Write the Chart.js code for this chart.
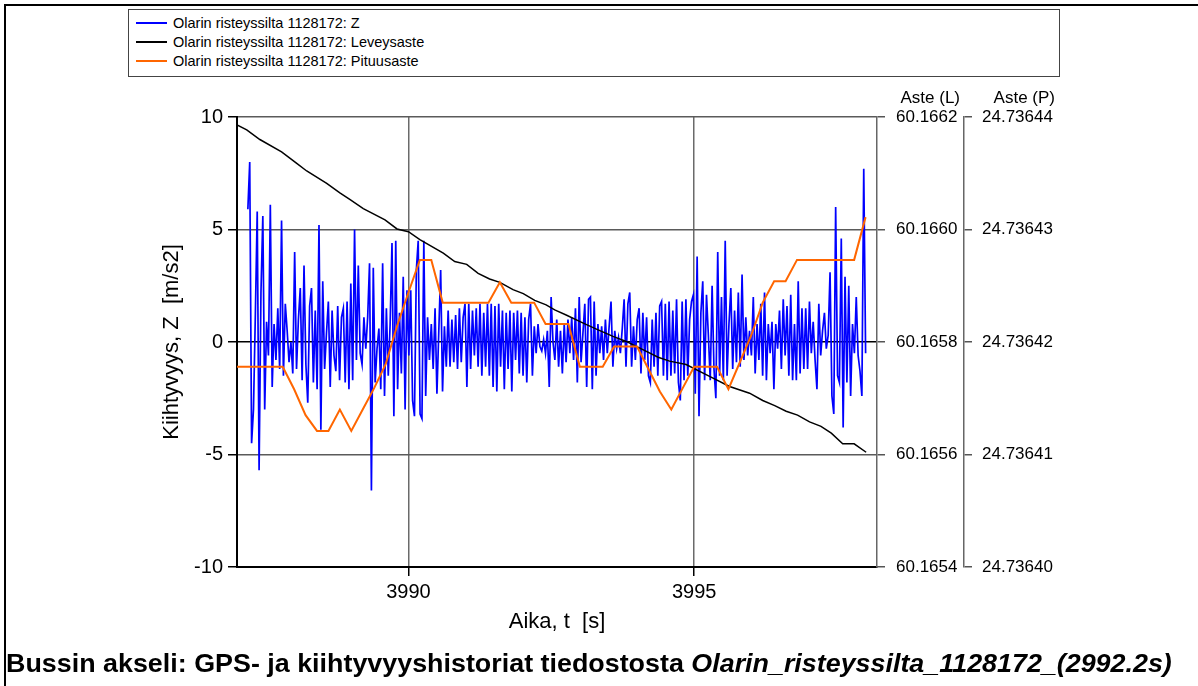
<!DOCTYPE html>
<html>
<head>
<meta charset="utf-8">
<script src="https://cdn.jsdelivr.net/npm/chart.js@4.4.1/dist/chart.umd.min.js"></script>
<style>
  html, body { margin: 0; padding: 0; background: #fff; }
  #wrap { position: relative; width: 1198px; height: 686px; overflow: hidden; font-family: "Liberation Sans", Arial, sans-serif; }
  #chart { position: absolute; left: 0; top: 0; }
  #frameTop { position: absolute; left: 4px; top: 4px; width: 1194px; height: 2px; background: #000; }
  #frameLeft { position: absolute; left: 4px; top: 4px; width: 2px; height: 682px; background: #000; }
  #legend { position: absolute; left: 128px; top: 9px; width: 930px; height: 63px; border: 1px solid #444; background: #fff; padding-top: 3px; box-sizing: content-box; }
  .row { height: 19.3px; display: flex; align-items: center; font-size: 14.5px; color: #000; white-space: pre; }
  .swatch { width: 31px; height: 0; border-top: 2px solid; margin-left: 7px; margin-right: 6px; }
  #caption { position: absolute; left: 6px; top: 649px; font-size: 25px; font-weight: bold; color: #000; white-space: pre; transform-origin: 0 0; }
</style>
</head>
<body>
<div id="wrap">
  <canvas id="chart" width="1198" height="686"></canvas>
  <div id="frameTop"></div>
  <div id="frameLeft"></div>
  <div id="legend"></div>
  <div id="caption">Bussin akseli: GPS- ja kiihtyvyyshistoriat tiedostosta <i>Olarin_risteyssilta_1128172_(2992.2s)</i></div>
</div>
<script>
// Z acceleration, sampled evenly from zStart
const zStart = 3987.19;
const zStep = 0.03276;
const zValues = [
  5.9, 8.0, -4.5, -3.0, 1.2, 5.8, -5.7, 2.2, 5.6, -3.0,
  0.9, -0.6, 6.1, -2.0, 0.8, -0.8, 1.5, -1.2, 5.4, -1.5,
  1.7, 0.5, -0.9, 0.0, -1.4, 4.0, -1.2, 1.0, 2.4, -1.7,
  3.4, -1.0, -2.7, 1.6, 2.4, -1.8, 1.4, -2.1, 5.2, -3.9,
  2.7, -1.2, 0.4, 1.8, -2.0, 1.4, -0.6, -1.3, 1.6, -1.7,
  1.1, 1.5, -1.8, 1.8, -2.1, 2.6, -1.7, 5.0, -0.8, 3.4,
  -0.5, -1.0, 1.1, -0.3, 1.1, 3.5, -6.6, 3.3, -1.8, -0.3,
  0.6, -2.1, 3.5, -2.4, 1.5, -1.5, 0.8, 4.4, -3.3, 4.5,
  // ~3989.8 s
  -2.1, 1.3, -1.4, 2.9, -3.0, 2.3, -0.6, 2.3, -2.6, -3.3,
  3.2, 4.5, -3.2, -3.4, 4.5, -2.4, 1.1, -0.8, 0.8, -1.2,
  1.5, -2.3, 0.5, 3.2, -2.2, 0.7, -1.1, 1.4, -1.1, 1.0,
  -0.9, 1.2, -1.2, 1.5, -0.9, 1.1, 1.7, -2.0, 1.7, -1.2,
  1.4, -0.6, 1.5, -1.1, 1.7, -1.5, 1.3, -1.1, 1.7, -1.5,
  1.7, -2.0, 1.6, -2.2, 1.7, -1.1, 1.4, -2.1, 1.3, -1.2,
  1.4, -2.2, 1.3, -0.8, 1.4, -1.4, 1.3, -1.5, 1.1, -1.8,
  1.0, 1.7, -1.5, 0.7, -0.5, 0.8, -0.2, -0.4, 0.1, -0.5,
  0.5, -2.0, 2.0, 0.0,
  // ~3992.5 s
  -0.8, 1.0, -1.1, 0.5, -1.4, 0.8, -0.9, 1.0, -0.5, 1.1,
  -0.8, 1.5, -1.8, 2.0, -0.9, 0.4, 1.7, -2.0, 1.9, 2.0,
  -2.1, 1.8, -1.5, 0.8, -0.5, 0.7, -0.8, 1.0, -0.5, 0.7,
  1.8, -1.1, 0.5, -0.3, 0.2, -0.5, 0.6, 1.9, -1.1, 1.7,
  2.2, -1.1, 0.7, -0.8, 1.0, 1.5, -1.4, 1.3, -0.8, 1.1,
  -1.5, -1.8, 1.0, -1.1, 1.3, -1.5, 1.6, 1.8, -1.5, 1.7,
  -1.7, 1.8, -1.5, 1.4, -1.4, 1.9, -1.8, -2.6, 1.8, -1.7,
  1.9, -1.5, 1.0, 1.8, 2.1, -2.3, 3.8, -3.3, 1.3, 2.7,
  -1.7, 2.1, 0.3,
  // ~3995.3 s
  -1.7, 2.5, -1.2, -2.5, 4.0, -1.5, 2.0, -1.7, 4.5, -1.5,
  0.8, 2.4, -1.2, 1.4, -0.9, 2.2, -1.1, 3.0, -0.8, 1.1,
  -0.6, 0.5, -0.6, 2.0, -1.4, 0.8, -0.8, 1.7, -1.5, 2.2,
  -1.7, 0.8, -0.5, 0.9, -2.1, 0.8, -0.3, 1.4, -1.2, 1.9,
  -0.6, 1.6, -1.5, 2.1, -1.7, 0.8, -1.7, 2.7, -1.4, 1.5,
  -1.2, 1.5, -1.2, 1.8, -0.5, 0.9, -0.8, -2.1, 1.7, -0.6,
  0.5, 1.3, -0.3, 0.3, 3.1, -2.4, -3.2, 6.0, -1.5, -1.8,
  4.6, -3.8, 2.9, -1.8, 2.5, -2.4, 0.8, -0.5, 2.0, -0.6,
  -1.3, -2.4, 7.7, -0.5
];

// GPS latitude (Leveysaste)
const latTimes = [3987.00, 3987.17, 3987.40, 3987.78, 3988.04, 3988.22, 3988.57, 3988.80, 3988.98, 3989.21,
  3989.59, 3989.80, 3990.00, 3990.20, 3990.61, 3990.81, 3991.02, 3991.22, 3991.42, 3991.60,
  3991.83, 3992.01, 3992.21, 3992.41, 3992.56, 3992.76, 3993.05, 3993.29, 3993.58, 3993.81,
  3994.05, 3994.37, 3994.57, 3994.86, 3995.27, 3995.62, 3995.97, 3996.20, 3996.41, 3996.61,
  3996.81, 3997.02, 3997.22, 3997.40, 3997.60, 3997.80, 3998.01];
const latValues = [60.166186, 60.166177, 60.166160, 60.166138, 60.166118, 60.166104, 60.166082, 60.166065, 60.166053, 60.166037,
  60.166017, 60.166001, 60.165996, 60.165982, 60.165958, 60.165943, 60.165938, 60.165922, 60.165912, 60.165906,
  60.165893, 60.165886, 60.165874, 60.165866, 60.165857, 60.165848, 60.165834, 60.165823, 60.165810, 60.165801,
  60.165789, 60.165773, 60.165766, 60.165760, 60.165739, 60.165721, 60.165709, 60.165696, 60.165687, 60.165677,
  60.165670, 60.165658, 60.165650, 60.165638, 60.165619, 60.165619, 60.165604];

// GPS longitude (Pituusaste)
const lonTimes = [3987.0, 3987.8, 3988.0, 3988.2, 3988.4, 3988.6, 3988.8, 3989.0, 3989.2, 3989.4,
  3989.6, 3989.8, 3990.0, 3990.2, 3990.4, 3990.6, 3991.4, 3991.6, 3991.8, 3992.2,
  3992.4, 3992.8, 3993.0, 3993.4, 3993.6, 3994.0, 3994.2, 3994.4, 3994.6, 3994.8,
  3995.0, 3995.4, 3995.6, 3995.8, 3996.0, 3996.2, 3996.4, 3996.6, 3996.8, 3997.8, 3998.0];
const lonValues = [24.7364178, 24.7364178, 24.7364158, 24.7364135, 24.7364121, 24.7364121, 24.7364140, 24.7364121, 24.7364140, 24.7364159,
  24.7364180, 24.7364214, 24.7364244, 24.7364273, 24.7364273, 24.7364235, 24.7364235, 24.7364253, 24.7364235, 24.7364235,
  24.7364216, 24.7364216, 24.7364178, 24.7364178, 24.7364196, 24.7364196, 24.7364176, 24.7364156, 24.7364140, 24.7364159,
  24.7364178, 24.7364178, 24.7364158, 24.7364182, 24.7364206, 24.7364235, 24.7364254, 24.7364254, 24.7364273, 24.7364273, 24.7364311];

const timeTicks = [3990, 3995];
const zTicks = [-10, -5, 0, 5, 10];
const latTicks = [60.1654, 60.1656, 60.1658, 60.1660, 60.1662];
const lonTicks = [24.73640, 24.73641, 24.73642, 24.73643, 24.73644];

const seriesLabels = ['Olarin risteyssilta 1128172: Z', 'Olarin risteyssilta 1128172: Leveysaste', 'Olarin risteyssilta 1128172: Pituusaste'];
const seriesColors = ['#0000ff', '#000000', '#ff6600'];

const FONT = '"Liberation Sans", Arial, sans-serif';

const zData = zValues.map((v, i) => ({ x: zStart + i * zStep, y: v }));
const latData = latTimes.map((t, i) => ({ x: t, y: latValues[i] }));
const lonData = lonTimes.map((t, i) => ({ x: t, y: lonValues[i] }));

function setTicks(list) {
  return function (scale) { scale.ticks = list.map(v => ({ value: v })); };
}

// "Aste (L)" / "Aste (P)" headings above the right axes
const asteTitles = {
  id: 'asteTitles',
  afterDraw(chart) {
    const c = chart.ctx;
    c.save();
    c.font = '17px ' + FONT;
    c.fillStyle = '#000';
    c.textAlign = 'right';
    c.textBaseline = 'middle';
    const y = chart.chartArea.top - 19;
    c.fillText('Aste (L)', chart.scales.yL.right - 4, y);
    c.fillText('Aste (P)', chart.scales.yP.right - 4, y);
    c.restore();
  }
};

var ctx = document.getElementById('chart').getContext('2d');

var mychart = new Chart(ctx, {
  type: 'line',
  data: {
    datasets: [
      { label: seriesLabels[0], data: zData, yAxisID: 'y', borderColor: seriesColors[0], borderWidth: 1.7, pointRadius: 0, order: 3 },
      { label: seriesLabels[1], data: latData, yAxisID: 'yL', borderColor: seriesColors[1], borderWidth: 1.5, pointRadius: 0, order: 2 },
      { label: seriesLabels[2], data: lonData, yAxisID: 'yP', borderColor: seriesColors[2], borderWidth: 2, pointRadius: 0, order: 1 }
    ]
  },
  options: {
    responsive: false,
    animation: false,
    layout: { padding: { left: 155, right: 139, top: 117, bottom: 51 } },
    plugins: { legend: { display: false }, tooltip: { enabled: false } },
    scales: {
      x: {
        type: 'linear', min: 3987.0, max: 3998.2,
        afterBuildTicks: setTicks(timeTicks),
        afterFit: s => { s.height = 68; },
        ticks: { font: { family: FONT, size: 20 }, color: '#000', padding: 4, maxRotation: 0, callback: v => String(v) },
        grid: { color: '#6a6a6a', lineWidth: 1.5, tickLength: 9, tickColor: '#000', tickWidth: 1.5 },
        border: { color: '#000', width: 2 },
        title: { display: true, text: 'Aika, t  [s]', font: { family: FONT, size: 22 }, color: '#000', padding: { top: 0, bottom: 0 } }
      },
      y: {
        position: 'left', min: -10, max: 10,
        afterBuildTicks: setTicks(zTicks),
        afterFit: s => { s.width = 82; },
        ticks: { font: { family: FONT, size: 20 }, color: '#000', padding: 5 },
        grid: {
          color: c => (c.tick && c.tick.value === 0) ? '#000' : '#5a5a5a',
          lineWidth: 1.5, tickLength: 9, tickColor: '#000'
        },
        border: { color: '#000', width: 2 },
        title: { display: true, text: 'Kiihtyvyys, Z  [m/s2]', font: { family: FONT, size: 22 }, color: '#000', padding: { top: 4, bottom: 0 } }
      },
      yL: {
        position: 'right', weight: 0, min: 60.1654, max: 60.1662,
        afterBuildTicks: setTicks(latTicks),
        afterFit: s => { s.width = 87; },
        ticks: { font: { family: FONT, size: 17 }, color: '#000', padding: 11, callback: v => Number(v).toFixed(4) },
        grid: { drawOnChartArea: false, tickLength: 8, tickColor: '#555', lineWidth: 1.5 },
        border: { color: '#666', width: 1.5 }
      },
      yP: {
        position: 'right', weight: 1, min: 24.73640, max: 24.73644,
        afterBuildTicks: setTicks(lonTicks),
        afterFit: s => { s.width = 95; },
        ticks: { font: { family: FONT, size: 17 }, color: '#000', padding: 10, callback: v => Number(v).toFixed(5) },
        grid: { drawOnChartArea: false, tickLength: 8, tickColor: '#555', lineWidth: 1.5 },
        border: { color: '#666', width: 1.5 }
      }
    }
  },
  plugins: [asteTitles]
});

// legend box built from the series
const legendEl = document.getElementById('legend');
seriesLabels.forEach((lab, i) => {
  const row = document.createElement('div');
  row.className = 'row';
  const sw = document.createElement('span');
  sw.className = 'swatch';
  sw.style.borderTopColor = seriesColors[i];
  const tx = document.createElement('span');
  tx.textContent = lab;
  row.appendChild(sw);
  row.appendChild(tx);
  legendEl.appendChild(row);
});

// squeeze the caption to the width it has in the original
const cap = document.getElementById('caption');
cap.style.transform = 'scaleX(' + (1166 / cap.offsetWidth) + ')';
</script>
</body>
</html>
